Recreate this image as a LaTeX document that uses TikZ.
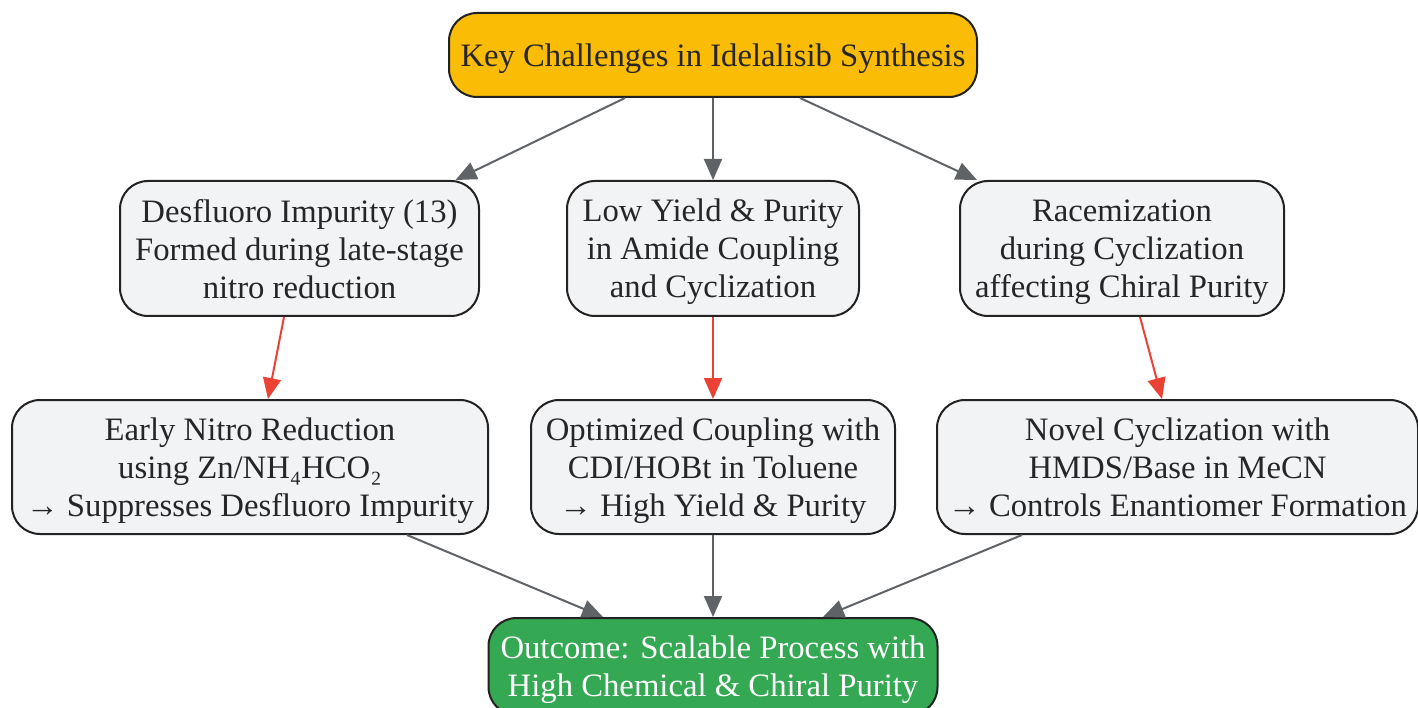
\documentclass[tikz,border=0pt]{standalone}
\usepackage{fontspec}
\setmainfont{Liberation Serif}
\usetikzlibrary{arrows.meta}
\definecolor{topfill}{HTML}{FBBC05}
\definecolor{boxfill}{HTML}{F1F3F4}
\definecolor{outfill}{HTML}{34A853}
\definecolor{edgegray}{HTML}{5F6368}
\definecolor{edgered}{HTML}{EA4335}
\definecolor{borderc}{HTML}{222222}
\definecolor{textc}{HTML}{262626}
\begin{document}
\begin{tikzpicture}[x=1pt,y=-1pt,
  box/.style={draw=borderc, line width=2pt, rounded corners=28pt, align=center,
    inner sep=0pt, font=\fontsize{32.7}{38}\selectfont, text=textc, fill=boxfill, text depth=0pt},
  topbox/.style={box, fill=topfill},
  outbox/.style={box, fill=outfill, text=white},
  grayarrow/.style={draw=edgegray, line width=2pt, -{Triangle[length=21pt,width=18pt]}},
  redarrow/.style={draw=edgered, line width=2pt, -{Triangle[length=21pt,width=18pt]}}]
\useasboundingbox (0,0) rectangle (1418,708);
\node[topbox, minimum width=528pt, minimum height=84pt] (top) at (713,55) {Key Challenges in Idelalisib Synthesis};
\node[box, minimum width=359pt, minimum height=135pt] (d1) at (299.5,248.5) {Desfluoro Impurity (13)\\Formed during late-stage\\nitro reduction};
\node[box, minimum width=292pt, minimum height=135pt] (d2) at (713,248.5) {Low Yield \& Purity\\in Amide Coupling\\and Cyclization};
\node[box, minimum width=324pt, minimum height=135pt] (d3) at (1122,248.5) {Racemization\\during Cyclization\\affecting Chiral Purity};
\node[box, minimum width=476pt, minimum height=134pt] (s1) at (250,467) {Early Nitro Reduction\\using Zn/NH₄HCO₂\\→ Suppresses Desfluoro Impurity};
\node[box, minimum width=364pt, minimum height=134pt] (s2) at (713,467) {Optimized Coupling with\\CDI/HOBt in Toluene\\→ High Yield \& Purity};
\node[box, minimum width=481pt, minimum height=134pt] (s3) at (1177.5,467) {Novel Cyclization with\\HMDS/Base in MeCN\\→ Controls Enantiomer Formation};
\node[outbox, minimum width=449pt, minimum height=97pt] (out) at (713,666.5) {Outcome: Scalable Process with\\High Chemical \& Chiral Purity};
\draw[grayarrow] ([xshift=-88pt]top.south) -- ([xshift=156pt]d1.north);
\draw[grayarrow] (top.south) -- (d2.north);
\draw[grayarrow] ([xshift=87pt]top.south) -- ([xshift=-145pt]d3.north);
\draw[redarrow] ([xshift=-15.5pt]d1.south) -- ([xshift=18pt]s1.north);
\draw[redarrow] (d2.south) -- (s2.north);
\draw[redarrow] ([xshift=18pt]d3.south) -- ([xshift=-15.5pt]s3.north);
\draw[grayarrow] ([xshift=157pt]s1.south) -- ([xshift=-110pt]out.north);
\draw[grayarrow] (s2.south) -- (out.north);
\draw[grayarrow] ([xshift=-155.5pt]s3.south) -- ([xshift=110pt]out.north);
\end{tikzpicture}
\end{document}
